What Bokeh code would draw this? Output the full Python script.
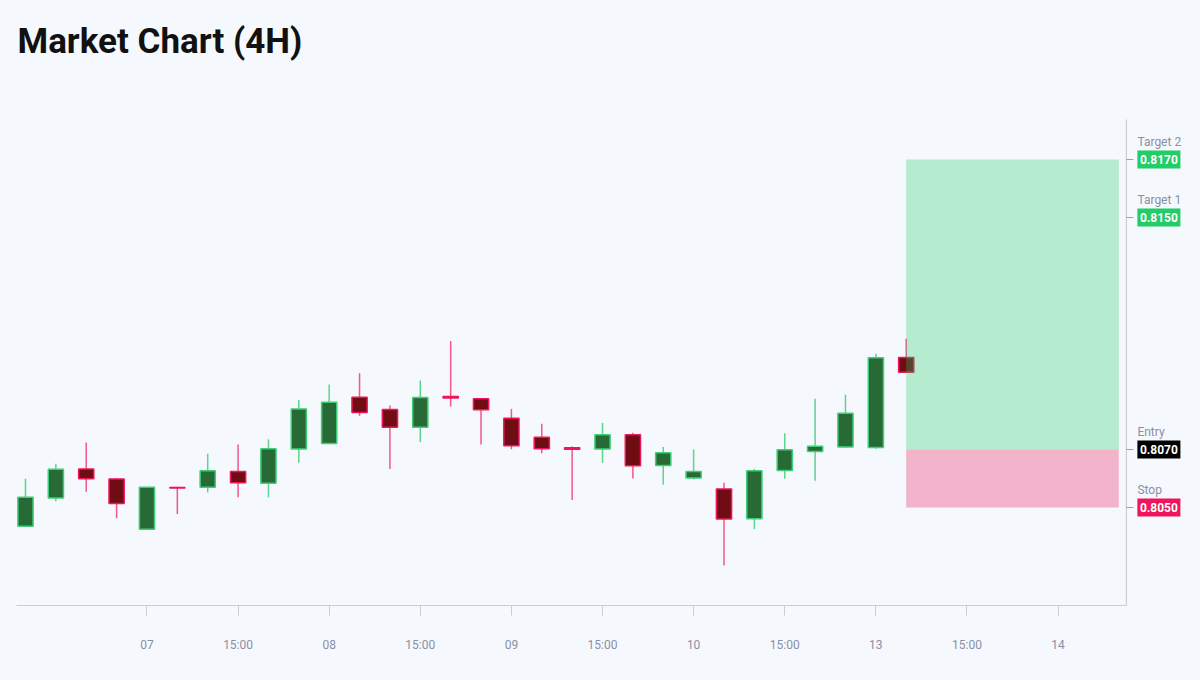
from bokeh.plotting import figure
from bokeh.models import ColumnDataSource, FixedTicker, Range1d
from bokeh.core.properties import value
from bokeh.embed import file_html
from bokeh.resources import INLINE

# ---- data ----
title_text = "Market Chart (4H)"

opens = [0.80435, 0.80533, 0.80633, 0.80598, 0.80425, 0.80569, 0.80570, 0.80624, 0.80584, 0.80702,
         0.80721, 0.80880, 0.80838, 0.80777, 0.80883, 0.80875, 0.80808, 0.80742, 0.80706, 0.80702,
         0.80751, 0.80645, 0.80602, 0.80564, 0.80461, 0.80628, 0.80693, 0.80709, 0.80707, 0.81017]
highs = [0.80599, 0.80651, 0.80724, 0.80601, 0.80571, 0.80572, 0.80685, 0.80717, 0.80735, 0.80871,
         0.80924, 0.80963, 0.80852, 0.80938, 0.81074, 0.80877, 0.80840, 0.80789, 0.80710, 0.80792,
         0.80758, 0.80709, 0.80700, 0.80585, 0.80633, 0.80756, 0.80875, 0.80889, 0.81030, 0.81082]
lows = [0.80434, 0.80522, 0.80554, 0.80463, 0.80424, 0.80478, 0.80552, 0.80535, 0.80535, 0.80654,
        0.80720, 0.80816, 0.80633, 0.80725, 0.80848, 0.80717, 0.80701, 0.80687, 0.80526, 0.80654,
        0.80600, 0.80579, 0.80597, 0.80300, 0.80426, 0.80599, 0.80592, 0.80705, 0.80703, 0.80966]
closes = [0.80535, 0.80632, 0.80599, 0.80514, 0.80570, 0.80567, 0.80627, 0.80585, 0.80703, 0.80840,
          0.80863, 0.80828, 0.80777, 0.80879, 0.80878, 0.80837, 0.80713, 0.80703, 0.80701, 0.80751,
          0.80644, 0.80689, 0.80624, 0.80460, 0.80627, 0.80699, 0.80711, 0.80825, 0.81016, 0.80966]

tick_positions = [4, 7, 10, 13, 16, 19, 22, 25, 28, 31, 34]
tick_labels = ["07", "15:00", "08", "15:00", "09", "15:00", "10", "15:00", "13", "15:00", "14"]

level_names = ["Target 2", "Target 1", "Entry", "Stop"]
level_values = [0.8170, 0.8150, 0.8070, 0.8050]
level_colors = ["#22cc66", "#22cc66", "#000000", "#f0145a"]

trade_start = 29
trade_end = 36
entry = 0.8070
stop = 0.8050
target = 0.8170

# ---- layout / style ----
X_START, X_AXIS_END, X_END = -0.296, 36.25, 38.69
Y_START, Y_AXIS_TOP, Y_END = 0.801621, 0.818379, 0.822483
PX_PER_BAR = (1200 - 16) / (X_END - X_START)

BG = "#f5f8fc"
UP_FILL, UP_LINE, UP_WICK = "#286a36", "#3ccf78", "#5fd38f"
DN_FILL, DN_LINE, DN_WICK = "#700c14", "#f0145a", "#f2588a"
AXIS_GRAY = "#c9cdd8"
TICK_GRAY = "#9aa0b4"
TEXT_GRAY = "#8a8fa6"

n = len(opens)
xs = list(range(n))
up = [c >= o for o, c in zip(opens, closes)]
src = ColumnDataSource(dict(
    x=xs, open=opens, high=highs, low=lows, close=closes,
    top=[max(o, c) for o, c in zip(opens, closes)],
    bottom=[min(o, c) for o, c in zip(opens, closes)],
    fill=[UP_FILL if u else DN_FILL for u in up],
    line=[UP_LINE if u else DN_LINE for u in up],
    wick=[UP_WICK if u else DN_WICK for u in up],
))

p = figure(width=1200, height=680, output_backend="svg", toolbar_location=None,
           x_range=Range1d(X_START, X_END), y_range=Range1d(Y_START, Y_END),
           y_axis_location=None, min_border_left=16, min_border_right=0,
           min_border_bottom=75, min_border_top=0,
           background_fill_color=BG, border_fill_color=BG, outline_line_color=None)
p.title.text = ""
p.title.visible = False

p.xgrid.visible = False
p.ygrid.visible = False

# title (drawn as text at the top-left corner of the canvas-wide frame)
p.text(x=[X_START], y=[Y_END], text=[title_text], x_offset=1, y_offset=41,
       text_align="left", text_baseline="alphabetic", text_font=value("Roboto"),
       text_font_size="35px", text_font_style="bold", text_color="#111111")

# wicks
p.segment(x0="x", x1="x", y0="low", y1="high", source=src, line_color="wick",
          line_width=1.5)
# bodies
p.vbar(x="x", top="top", bottom="bottom", width=0.5, source=src,
       fill_color="fill", line_color="line", line_width=1.5)

# trade zones
p.quad(left=[trade_start], right=[trade_end], bottom=[entry], top=[target],
       fill_color="#22cc66", fill_alpha=0.3, line_color=None)
p.quad(left=[trade_start], right=[trade_end], bottom=[stop], top=[entry],
       fill_color="#f0145a", fill_alpha=0.3, line_color=None)

# x axis
xa = p.xaxis[0]
xa.bounds = (X_START, X_AXIS_END)
xa.ticker = FixedTicker(ticks=tick_positions)
xa.major_label_overrides = {t: l for t, l in zip(tick_positions, tick_labels)}
xa.axis_line_color = AXIS_GRAY
xa.major_tick_line_color = AXIS_GRAY
xa.major_tick_in = 0
xa.major_tick_out = 10
xa.minor_tick_line_color = None
xa.major_label_text_color = TEXT_GRAY
xa.major_label_text_font = "Roboto"
xa.major_label_text_font_size = "12px"
xa.major_label_standoff = 22

# right price axis
p.segment(x0=[X_AXIS_END], x1=[X_AXIS_END], y0=[Y_START], y1=[Y_AXIS_TOP],
          line_color=AXIS_GRAY, line_width=1.2)
p.ray(x=[X_AXIS_END] * len(level_values), y=level_values, length=7, angle=0,
      length_units="screen", line_color=TICK_GRAY, line_width=1)
p.text(x=[X_AXIS_END] * len(level_values), y=level_values, text=level_names,
       x_offset=11, y_offset=-18, text_align="left", text_baseline="middle",
       text_font=value("Roboto"), text_font_size="12px", text_color=TEXT_GRAY)
box_x = X_AXIS_END + 32.5 / PX_PER_BAR
p.rect(x=[box_x] * len(level_values), y=level_values, width=43, height=18,
       width_units="screen", height_units="screen", fill_color=level_colors,
       line_color=None)
p.text(x=[box_x] * len(level_values), y=level_values,
       text=[f"{v:.4f}" for v in level_values], text_align="center",
       text_baseline="middle", text_font=value("Roboto"), text_font_size="12px",
       text_font_style="bold", text_color="white")

html = file_html(p, INLINE)
html = html.replace("</head>",
                    "<style>html,body{margin:0;padding:0;background:%s;overflow:hidden;}</style></head>" % BG)
open("out.html", "w").write(html)
